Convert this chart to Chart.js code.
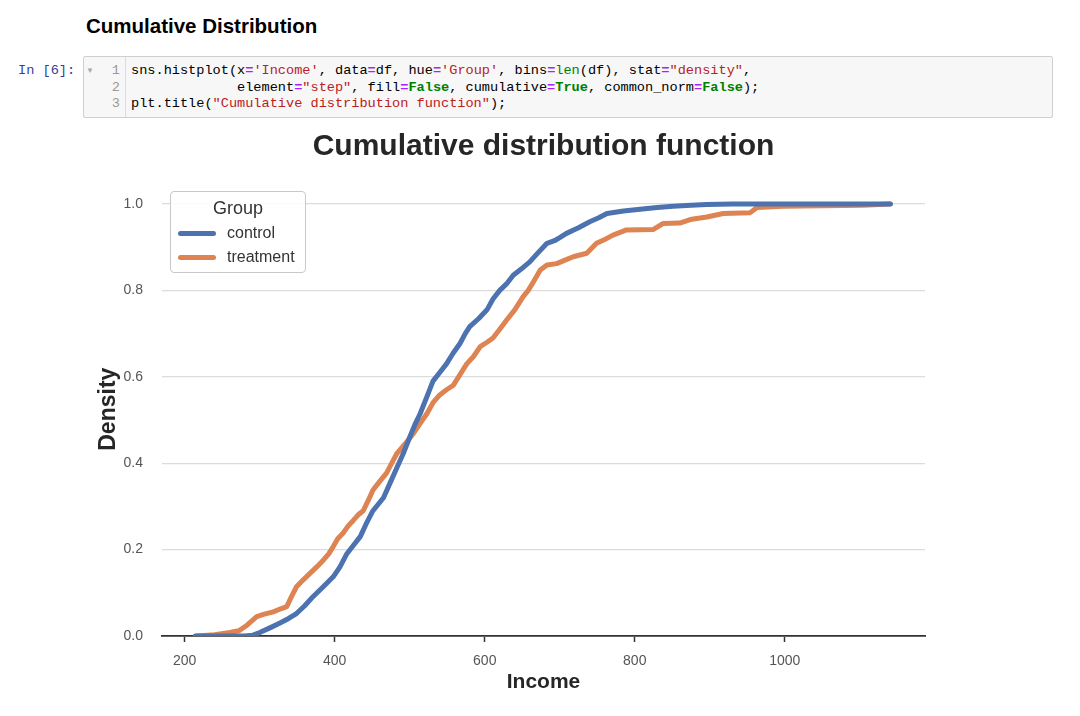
<!DOCTYPE html>
<html>
<head>
<meta charset="utf-8">
<script src="https://cdn.jsdelivr.net/npm/chart.js@4.4.1/dist/chart.umd.min.js"></script>
<style>
    body { margin: 0; background: #fff; font-family: "Liberation Sans", Arial, sans-serif; }
    h2 { position: absolute; left: 86px; top: 16px; margin: 0; font-size: 20.5px; line-height: 1; font-weight: bold; color: #000; }
    .prompt { position: absolute; left: 18px; top: 63px; font: 13.6px/16.5px "Liberation Mono", monospace; color: #303f9f; }
    .cell { position: absolute; left: 83px; top: 56px; width: 968px; height: 60px; background: #f7f7f7; border: 1px solid #cfcfcf; border-radius: 2px; }
    .gutter { position: absolute; left: 0; top: 0; width: 41px; height: 60px; border-right: 1px solid #ddd; }
    .fold { position: absolute; left: 2px; top: 9px; font-size: 8px; color: #aaa; }
    .nums { position: absolute; right: 5px; top: 6px; font: 13.6px/16.5px "Liberation Mono", monospace; color: #999; text-align: right; }
    pre { position: absolute; left: 47px; top: 6px; margin: 0; font: 13.6px/16.5px "Liberation Mono", monospace; color: #000; }
    .o { color: #aa22ff; font-weight: bold; }
    .s { color: #ba2121; }
    .b { color: #008000; }
    .k { color: #008000; font-weight: bold; }
    #wrap { position: absolute; left: 85px; top: 120px; width: 917px; height: 596px; }
    #legend { position: absolute; left: 170px; top: 191px; width: 134px; height: 80px; border: 1px solid #c8c8c8; border-radius: 4px; background: rgba(255,255,255,0.85); color: #333; }
    #legend .ttl { position: absolute; left: 0; width: 100%; top: 6px; text-align: center; font-size: 18px; }
    #legend .row { position: absolute; left: 7px; height: 20px; font-size: 16px; line-height: 20px; }
    #legend .sw { position: absolute; left: 0; top: 8px; width: 38px; height: 5px; border-radius: 3px; }
    #legend .lb { position: absolute; left: 49px; top: 0; white-space: nowrap; }
</style>
</head>
<body>
<h2>Cumulative Distribution</h2>
<div class="prompt">In [6]:</div>
<div class="cell">
    <div class="gutter"><div class="fold">&#9660;</div><div class="nums">1<br>2<br>3</div></div>
<pre>sns.histplot(x<span class="o">=</span><span class="s">'Income'</span>, data<span class="o">=</span>df, hue<span class="o">=</span><span class="s">'Group'</span>, bins<span class="o">=</span><span class="b">len</span>(df), stat<span class="o">=</span><span class="s">"density"</span>,
             element<span class="o">=</span><span class="s">"step"</span>, fill<span class="o">=</span><span class="k">False</span>, cumulative<span class="o">=</span><span class="k">True</span>, common_norm<span class="o">=</span><span class="k">False</span>);
plt.title(<span class="s">"Cumulative distribution function"</span>);</pre>
</div>
<div id="wrap"><canvas id="chart"></canvas></div>
<div id="legend"><div class="ttl">Group</div></div>

<script>
// значения (доход -> накопленная доля)
const groups = ['control', 'treatment'];
const colors = ['#4c72b0', '#dd8452'];

const incomeControl = [214, 250, 280, 291, 300, 315, 327, 338, 349, 360, 371, 384, 398, 407, 416, 425, 434, 442, 451, 458,
    465, 474, 483, 492, 500, 507, 514, 522, 531, 540, 549, 558, 567, 574, 580, 592, 603, 611, 620, 629,
    638, 649, 660, 670, 683, 693, 700, 709, 725, 740, 752, 763, 785, 807, 830, 851, 875, 896, 930, 1000, 1141];
const densityControl = [0, 0, 0, 0.002, 0.008, 0.02, 0.03, 0.04, 0.052, 0.07, 0.091, 0.113, 0.137, 0.16, 0.19, 0.21, 0.23, 0.26, 0.29, 0.305,
    0.32, 0.355, 0.39, 0.425, 0.46, 0.49, 0.515, 0.55, 0.59, 0.61, 0.63, 0.655, 0.677, 0.70, 0.716, 0.735, 0.755, 0.78, 0.80, 0.815,
    0.835, 0.85, 0.866, 0.885, 0.909, 0.915, 0.922, 0.932, 0.945, 0.959, 0.968, 0.978, 0.984, 0.988, 0.992, 0.995, 0.997, 0.999, 1.0, 1.0, 1.0];

const incomeTreatment = [216, 240, 260, 272, 283, 296, 305, 318, 328, 336, 342, 349, 358, 367, 376, 385, 392, 398, 404, 411,
    418, 425, 431, 438, 445, 451, 460, 469, 476, 483, 494, 505, 514, 523, 531, 540, 549, 558, 567, 576,
    585, 594, 603, 611, 620, 629, 640, 651, 658, 665, 674, 683, 696, 707, 718, 736, 749, 760, 771, 789,
    825, 838, 860, 874, 896, 918, 954, 963, 998, 1104, 1140];
const densityTreatment = [0, 0.003, 0.008, 0.012, 0.025, 0.045, 0.05, 0.056, 0.063, 0.068, 0.09, 0.114, 0.13, 0.145, 0.16, 0.176, 0.19, 0.207, 0.225, 0.238,
    0.255, 0.268, 0.28, 0.29, 0.315, 0.338, 0.358, 0.377, 0.40, 0.423, 0.445, 0.469, 0.492, 0.515, 0.54, 0.558, 0.57, 0.58, 0.605, 0.63,
    0.647, 0.67, 0.68, 0.69, 0.71, 0.731, 0.755, 0.785, 0.80, 0.82, 0.847, 0.859, 0.862, 0.87, 0.878, 0.886, 0.909, 0.918, 0.928, 0.94,
    0.941, 0.955, 0.956, 0.964, 0.97, 0.978, 0.98, 0.992, 0.995, 0.997, 1.0];

const xTicks = [200, 400, 600, 800, 1000];
const yTicks = [0, 0.2, 0.4, 0.6, 0.8, 1.0];

function toPoints(xs, ys) {
    return xs.map((x, i) => ({x: x, y: ys[i]}));
}

const font = '"Liberation Sans", Arial, sans-serif';

let chart = new Chart(document.getElementById('chart'), {
    type: 'line',
    data: {
        datasets: [{
            label: groups[0],
            data: toPoints(incomeControl, densityControl),
            borderColor: colors[0]
        }, {
            label: groups[1],
            data: toPoints(incomeTreatment, densityTreatment),
            borderColor: colors[1]
        }]
    },
    options: {
        responsive: true,
        maintainAspectRatio: false,
        animation: false,
        layout: { padding: 0 },
        elements: {
            point: { radius: 0 },
            line: { borderWidth: 5, tension: 0, fill: false, borderCapStyle: 'round', borderJoinStyle: 'round' }
        },
        plugins: {
            legend: { display: false },
            tooltip: { enabled: false },
            title: {
                display: true,
                text: 'Cumulative distribution function',
                color: '#262626',
                font: { family: font, size: 30, weight: 'bold', lineHeight: 1.2 },
                padding: { top: 9, bottom: 17.4 }
            }
        },
        scales: {
            x: {
                type: 'linear',
                min: 169.7,
                max: 1187,
                afterBuildTicks: s => { s.ticks = xTicks.map(v => ({value: v})); },
                afterFit: s => { s.height = 80; },
                ticks: { color: '#555', padding: 11, font: { family: font, size: 14 }, callback: v => String(v) },
                grid: { display: true, drawOnChartArea: false, drawTicks: true, tickLength: 6, tickColor: '#333', tickWidth: 1.5 },
                border: { display: true, color: '#333', width: 1.8 },
                title: { display: true, text: 'Income', color: '#262626', padding: { top: 0, bottom: 21 }, font: { family: font, size: 21, weight: 'bold', lineHeight: 1.2 } }
            },
            y: {
                min: 0,
                max: 1.05,
                afterBuildTicks: s => { s.ticks = yTicks.map(v => ({value: v})); },
                afterFit: s => { s.width = 77; },
                ticks: { color: '#555', padding: 19, font: { family: font, size: 14 }, callback: v => v.toFixed(1) },
                grid: { color: '#dcdcdc', lineWidth: 1.2, drawTicks: false },
                border: { display: false },
                title: { display: true, text: 'Density', color: '#262626', padding: { top: 10, bottom: 0 }, font: { family: font, size: 23, weight: 'bold', lineHeight: 1.2 } }
            },
            // пустая ось справа, чтобы заголовок стоял по центру области графика
            yRight: {
                position: 'right',
                min: 0,
                max: 1.05,
                afterFit: s => { s.width = 77; },
                ticks: { display: false },
                grid: { display: false },
                border: { display: false }
            }
        }
    }
});

// легенда в рамке как у seaborn
let legend = document.getElementById('legend');
chart.data.datasets.forEach(function(ds, i){
    legend.insertAdjacentHTML('beforeend',
        `<div class="row" style="top:${31 + i * 24}px"><div class="sw" style="background:${ds.borderColor}"></div><div class="lb">${ds.label}</div></div>`);
});
</script>
</body>
</html>
